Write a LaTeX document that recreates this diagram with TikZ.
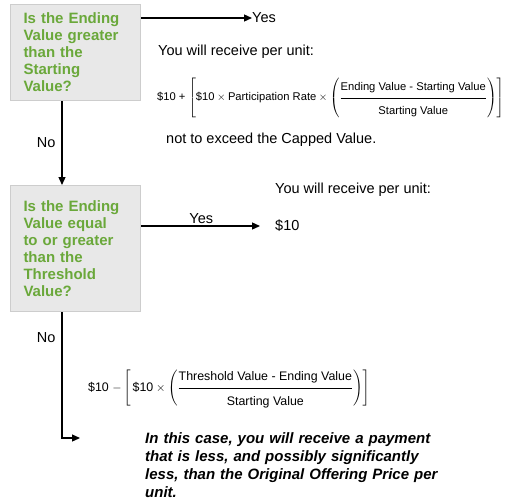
\documentclass[tikz,border=0pt]{standalone}
\usepackage{fontspec}
\setmainfont{Liberation Sans}
\usepackage{amsmath}
\usetikzlibrary{arrows.meta}

\definecolor{qgreen}{RGB}{106,168,58}
\definecolor{qfill}{RGB}{232,232,232}
\definecolor{qedge}{RGB}{205,205,205}

\newcommand{\fracnum}[1]{\mbox{#1}\rule[-6pt]{0pt}{6pt}}
\newcommand{\fracden}[1]{\rule{0pt}{15pt}\mbox{#1}}

\tikzset{
  question/.style={draw=qedge, fill=qfill, line width=1pt, anchor=north west,
    text width=104pt, inner xsep=13pt, inner ysep=7pt, align=left,
    text=qgreen, font=\fontsize{15}{17}\selectfont\bfseries},
  plain/.style={anchor=west, inner sep=0pt, font=\fontsize{14.5}{17}\selectfont},
  formula/.style={anchor=west, inner sep=0pt, font=\fontsize{11.2}{13}\selectfont},
  note/.style={anchor=north west, inner sep=0pt, text width=300pt, align=left,
    font=\fontsize{15}{18}\selectfont\bfseries\itshape},
  flow/.style={line width=1.3pt, -{Triangle[width=7pt,length=8pt]}},
}

\begin{document}
\begin{tikzpicture}[x=1pt, y=-1pt]
  \useasboundingbox (0,0) rectangle (516,501);
  % first question
  \node[question, minimum height=96pt] (q1) at (10,4)
    {Is the Ending\\Value greater\\than the\\Starting\\Value?};
  \node[plain] (yes1) at (252,18) {Yes};
  \node[plain] (recv1) at (158,52) {You will receive per unit:};
  \node[formula] (pay1) at (157,98)
    {\$10 + $\left[\mbox{\$10}\times\mbox{Participation Rate}\times
     \left(\dfrac{\fracnum{Ending Value - Starting Value}}{\fracden{Starting Value}}\right)\right]$};
  \node[plain] (cap) at (166,140) {not to exceed the Capped Value.};
  % second question
  \node[question, minimum height=126pt] (q2) at (10,185)
    {Is the Ending\\Value equal\\to or greater\\than the\\Threshold\\Value?};
  \node[plain] (recv2) at (275,190) {You will receive per unit:};
  \node[plain] (pay2) at (275,226) {\$10};
  \node[formula, font=\fontsize{12.4}{14}\selectfont] (pay3) at (88,389)
    {\$10 $-\left[\,\mbox{\$10}\times
     \left(\dfrac{\fracnum{Threshold Value - Ending Value}}{\fracden{Starting Value}}\right)\right]$};
  \node[note] (note) at (145,432)
    {In this case, you will receive a payment\\that is less, and possibly significantly\\less, than the Original Offering Price per\\unit.};
  \coordinate (noend) at (80,438);

  \draw[flow] (q1.east |- yes1.west) -- (yes1.west);
  \draw[flow] ([xshift=52pt]q1.south west) -- node[left=6pt, plain, anchor=east] {No}
    ([xshift=52pt]q2.north west);
  \draw[flow, shorten >=15pt] (q2.east |- pay2.west) -- node[pos=0.45, above=2pt, plain, anchor=south] {Yes}
    (pay2.west);
  \draw[flow] ([xshift=52pt]q2.south west) |- node[pos=0.1, left=6pt, plain, anchor=east] {No}
    (noend);
\end{tikzpicture}
\end{document}
